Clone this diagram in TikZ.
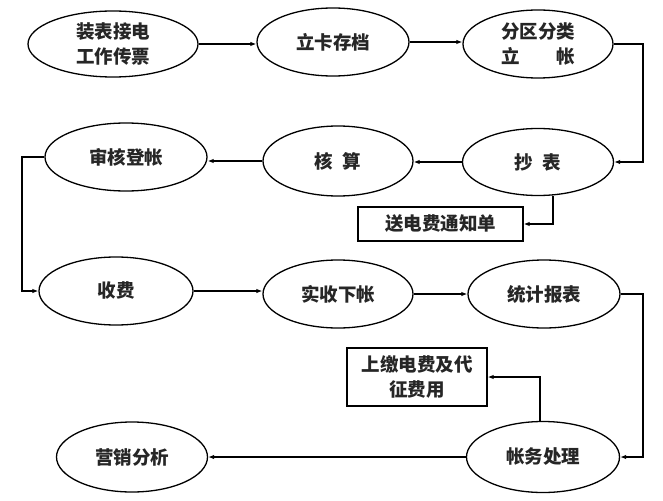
\documentclass[tikz,border=0pt]{standalone}
\usepackage{fontspec}
\newfontfamily\cjk{Noto Sans CJK SC}
\usetikzlibrary{shapes.geometric,arrows.meta}
\begin{document}
\begin{tikzpicture}[x=1pt,y=-1pt,
  ov/.style={draw=black,line width=1.3pt,ellipse,inner sep=0pt,align=center,
    font=\cjk\bfseries\fontsize{18.5}{25}\selectfont,text=black!85},
  bx/.style={draw=black,line width=1.3pt,rectangle,inner sep=0pt,align=center,
    font=\cjk\bfseries\fontsize{18.5}{25}\selectfont,text=black!85},
  ar/.style={line width=1.2pt,-{Latex[length=6pt,width=4.5pt]}}]
\useasboundingbox (0,0) rectangle (663,500);
\fill[white] (0,0) rectangle (663,500);
% row 1
\node[ov,minimum width=170pt,minimum height=66pt] (E1) at (113,44) {装表接电\\工作传票};
\node[ov,minimum width=152pt,minimum height=68pt] (E2) at (333,42) {立卡存档};
\node[ov,minimum width=150pt,minimum height=68pt] (E3) at (538,44) {分区分类\\立\hspace{2em}帐};
% row 2
\node[ov,minimum width=162pt,minimum height=68pt] (E4) at (126,157) {审核登帐};
\node[ov,minimum width=150pt,minimum height=70pt] (E5) at (338,161) {核\hspace{0.5em}算};
\node[ov,minimum width=151pt,minimum height=67pt] (E6) at (538,162) {抄\hspace{0.5em}表};
\node[bx,minimum width=165pt,minimum height=34pt] (B1) at (440.5,224) {送电费通知单};
% row 3
\node[ov,minimum width=154pt,minimum height=68pt] (E7) at (116,291) {收费};
\node[ov,minimum width=150pt,minimum height=68pt] (E8) at (338,294) {实收下帐};
\node[ov,minimum width=152pt,minimum height=68pt] (E9) at (544,294) {统计报表};
% row 4
\node[bx,minimum width=140pt,minimum height=58pt] (B2) at (417,377) {上缴电费及代\\征费用};
\node[ov,minimum width=151pt,minimum height=70pt] (E11) at (132,457) {营销分析};
\node[ov,minimum width=153pt,minimum height=71pt] (E10) at (543,457) {帐务处理};
\coordinate (R) at (643,0);
\coordinate (L) at (22,0);
% connectors
\draw[ar] (E1.east) -- (E2.west |- E1.east);
\draw[ar] (E2.east) -- (E3.west |- E2.east);
\draw[ar] (E3.east) -- (E3.east -| R) |- (E6.east);
\draw[ar] (E6.west) -- (E5.east |- E6.west);
\draw[ar] (E5.west) -- (E4.east |- E5.west);
\draw[ar] ([xshift=15pt]E6.south) |- (B1.east);
\draw[ar] (E4.west) -- (E4.west -| L) |- (E7.west);
\draw[ar] (E7.east) -- (E8.west |- E7.east);
\draw[ar] (E8.east) -- (E9.west |- E8.east);
\draw[ar] (E9.east) -- (E9.east -| R) |- (E10.east);
\draw[ar] ([xshift=-3pt]E10.north) |- (B2.east);
\draw[ar] (E10.west) -- (E11.east);
\end{tikzpicture}
\end{document}
